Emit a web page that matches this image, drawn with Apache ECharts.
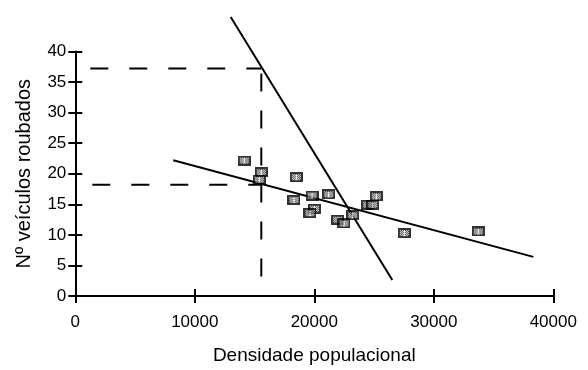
<!DOCTYPE html>
<html>
<head>
<meta charset="utf-8">
<script src="https://cdn.jsdelivr.net/npm/echarts@6/dist/echarts.min.js"></script>
<style>html,body{margin:0;padding:0;background:#fff}#c{width:588px;height:370px}</style>
</head>
<body>
<div id="c"></div>
<script>
// ---- data ----
var densidade = [14142, 15565, 15397, 18494, 18301, 19808, 20017, 19640, 21205, 21958, 22485, 23213, 24469, 24887, 25188, 27531, 33724];
var veiculos  = [22.16, 20.24, 19.03, 19.44, 15.72, 16.44, 14.28, 13.56, 16.63, 12.48, 11.88, 13.21, 14.92, 14.92, 16.31, 10.29, 10.56];
// fitted lines (endpoints)
var steepLineX = [13004, 26527];
var steepLineY = [45.64, 2.62];
var flatLineX  = [8200, 38330];
var flatLineY  = [22.2, 6.4];
// guide lines
var guideX = 15565;
var guideYHigh = 37.2;
var guideYLow = 18.2;
var xTicks = [0, 10000, 20000, 30000, 40000];
var yTicks = [0, 5, 10, 15, 20, 25, 30, 35, 40];

function markerImage() {
  var cv = document.createElement('canvas');
  cv.width = 13; cv.height = 10;
  var g = cv.getContext('2d');
  g.fillStyle = '#000'; g.fillRect(0, 0, 13, 10);
  g.fillStyle = '#fff'; g.fillRect(2, 2, 9, 6);
  g.fillStyle = '#000';
  for (var yy = 2; yy < 8; yy++) for (var xx = 2; xx < 11; xx++) {
    if ((xx + yy) % 2 === 1 && xx !== 6) g.fillRect(xx, yy, 1, 1);
  }
  return 'image://' + cv.toDataURL();
}

var pts = densidade.map(function (x, i) { return [x, veiculos[i]]; });
function pairs(xs, ys) { return xs.map(function (x, i) { return [x, ys[i]]; }); }

var FONT = 'Liberation Sans, Arial, Helvetica, sans-serif';
var chart = echarts.init(document.getElementById('c'), null, {renderer: 'canvas'});
var axisLineStyle = {color: '#000', width: 2};
chart.setOption({
  animation: false,
  grid: {left: 75.3, right: 34.7, top: 51.5, bottom: 68.5},
  xAxis: [{
    type: 'value', min: 0, max: 40000, interval: 10000,
    name: 'Densidade populacional', nameLocation: 'middle', nameGap: 50,
    nameTextStyle: {fontFamily: FONT, fontSize: 19, color: '#000'},
    axisLine: {show: true, lineStyle: axisLineStyle},
    axisTick: {show: true, length: 7, lineStyle: axisLineStyle},
    axisLabel: {fontFamily: FONT, fontSize: 17, color: '#000', margin: 18,
                formatter: function (v) { return String(v); }},
    splitLine: {show: false}
  }, {
    type: 'value', min: 0, max: 40000, interval: 10000, position: 'bottom',
    axisLine: {show: false}, axisTick: {show: true, inside: true, length: 7, lineStyle: axisLineStyle},
    axisLabel: {show: false}, splitLine: {show: false}
  }],
  yAxis: [{
    type: 'value', min: 0, max: 40, interval: 5,
    name: 'Nº veículos roubados', nameLocation: 'middle', nameGap: 41,
    nameTextStyle: {fontFamily: FONT, fontSize: 20, color: '#000'},
    axisLine: {show: true, lineStyle: axisLineStyle},
    axisTick: {show: true, length: 7, lineStyle: axisLineStyle},
    axisLabel: {fontFamily: FONT, fontSize: 17, color: '#000', margin: 9},
    splitLine: {show: false}
  }, {
    type: 'value', min: 0, max: 40, interval: 5, position: 'left',
    axisLine: {show: false}, axisTick: {show: true, inside: true, length: 7, lineStyle: axisLineStyle},
    axisLabel: {show: false}, splitLine: {show: false}
  }],
  series: [
    {type: 'line', data: [[0, guideYHigh], [guideX, guideYHigh]], symbol: 'none', silent: true,
     lineStyle: {color: '#000', width: 2, type: [18, 21], dashOffset: 24}, z: 2},
    {type: 'line', data: [[0, guideYLow], [guideX, guideYLow]], symbol: 'none', silent: true,
     lineStyle: {color: '#000', width: 2, type: [18, 21], dashOffset: 22}, z: 2},
    {type: 'line', data: [[guideX, guideYHigh], [guideX, 0]], symbol: 'none', silent: true,
     lineStyle: {color: '#000', width: 2, type: [18, 19], dashOffset: 32}, z: 2},
    {type: 'line', data: pairs(steepLineX, steepLineY), symbol: 'none', clip: false, silent: true,
     lineStyle: {color: '#000', width: 2}, z: 3},
    {type: 'line', data: pairs(flatLineX, flatLineY), symbol: 'none', clip: false, silent: true,
     lineStyle: {color: '#000', width: 2}, z: 3},
    {type: 'scatter', data: pts, symbol: markerImage(), symbolSize: [13, 10], z: 5}
  ]
});
</script>
</body>
</html>
